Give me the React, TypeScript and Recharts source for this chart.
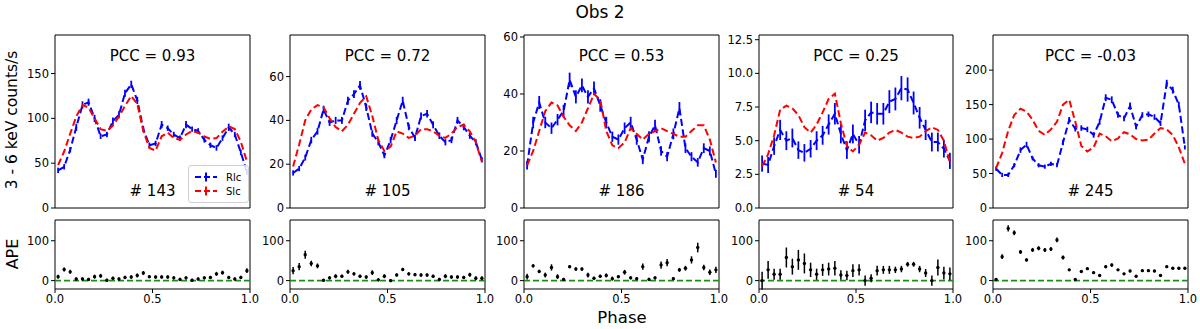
import React from 'react';
import {
  ComposedChart,
  Line,
  Scatter,
  XAxis,
  YAxis,
  ErrorBar,
  ReferenceLine,
  ReferenceArea,
  Legend,
} from 'recharts';

// ---------------- DATA ----------------
const phases = [
  0.016, 0.047, 0.078, 0.109, 0.141, 0.172, 0.203, 0.234, 0.266, 0.297, 0.328,
  0.359, 0.391, 0.422, 0.453, 0.484, 0.516, 0.547, 0.578, 0.609, 0.641, 0.672,
  0.703, 0.734, 0.766, 0.797, 0.828, 0.859, 0.891, 0.922, 0.953, 0.984,
];

const pccLabels = ['PCC = 0.93', 'PCC = 0.72', 'PCC = 0.53', 'PCC = 0.25', 'PCC = -0.03'];
const countLabels = ['# 143', '# 105', '# 186', '# 54', '# 245'];
const seriesNames = ['Rlc', 'Slc'];
const xTicks = [0, 0.5, 1];

// panel 1
const rlc1 = [42, 46, 65, 90, 115, 118, 100, 80, 82, 97, 104, 128, 138, 120, 88, 70, 72, 93, 89, 82, 78, 93, 88, 86, 76, 70, 67, 78, 90, 82, 62, 40];
const rlc1Err = [3, 3, 3, 4, 4, 4, 4, 3, 3, 4, 4, 4, 4, 4, 3, 3, 3, 4, 3, 3, 3, 4, 3, 3, 3, 3, 3, 3, 4, 3, 3, 3];
const slc1 = [48, 63, 83, 102, 115, 112, 100, 88, 86, 92, 102, 114, 125, 116, 86, 67, 64, 80, 84, 78, 76, 82, 86, 84, 80, 77, 78, 85, 91, 88, 74, 52];
const ape1 = [10, 28, 22, 4, 4, 3, 10, 12, 1, 6, 4, 8, 9, 13, 19, 10, 9, 9, 9, 7, 3, 7, 1, 4, 7, 8, 17, 20, 8, 4, 8, 25];
const ape1Err = [5, 5, 5, 4, 4, 4, 5, 5, 4, 4, 4, 4, 4, 5, 5, 4, 4, 4, 4, 4, 4, 4, 4, 4, 4, 4, 5, 5, 4, 4, 4, 6];
const yTicks1 = [0, 50, 100, 150];
const yMax1 = 193;

// panel 2
const rlc2 = [16, 18, 23, 31, 35, 45, 39, 40, 40, 49, 52, 56, 46, 34, 30, 24, 31, 40, 49, 37, 32, 42, 43, 38, 33, 30, 31, 40, 37, 33, 30, 22];
const rlc2Err = [1.2, 1.2, 1.3, 1.5, 1.5, 1.7, 1.5, 1.6, 1.6, 1.8, 1.8, 2, 1.7, 1.5, 1.4, 1.3, 1.4, 1.6, 1.8, 1.5, 1.4, 1.6, 1.7, 1.6, 1.5, 1.4, 1.4, 1.6, 1.5, 1.4, 1.4, 1.2];
const slc2 = [19, 29, 40, 45, 47, 46, 41, 37, 35, 38, 43, 48, 51, 42, 31, 26, 28, 35, 34, 32, 33, 36, 36, 35, 33, 32, 34, 37, 38, 35, 30, 21];
const ape2 = [25, 35, 65, 43, 37, 1, 7, 11, 11, 22, 17, 11, 9, 20, 2, 11, 0, 14, 28, 17, 15, 14, 14, 11, 3, 11, 9, 9, 8, 15, 6, 6];
const ape2Err = [9, 9, 10, 7, 6, 3, 4, 5, 4, 5, 4, 4, 4, 6, 4, 5, 4, 4, 4, 4, 4, 4, 4, 4, 4, 5, 4, 4, 4, 5, 5, 5];
const yTicks2 = [0, 20, 40, 60];
const yMax2 = 79;

// panel 3
const rlc3 = [15, 30, 37, 30, 28, 31, 34, 45, 39, 43, 39, 42, 36, 30, 25, 24, 28, 30, 24, 17, 25, 29, 20, 18, 26, 35, 21, 18, 16, 21, 20, 12];
const rlc3Err = [1.5, 2, 2.3, 2, 2, 2, 2.2, 2.5, 2.3, 2.4, 2.3, 2.4, 2.2, 2, 1.8, 1.8, 2, 2, 1.8, 1.6, 1.9, 2, 1.7, 1.6, 1.9, 2.2, 1.7, 1.6, 1.5, 1.7, 1.6, 1.4];
const slc3 = [15, 20, 27, 34, 37, 36, 32, 29, 27, 30, 35, 40, 38, 27, 22, 21, 23, 28, 26, 24, 26, 27, 28, 27, 26, 25, 25, 27, 29, 29, 24, 16];
const ape3 = [10, 37, 23, 14, 33, 10, 3, 35, 29, 29, 14, 6, 11, 13, 5, 10, 21, 7, 5, 35, 3, 7, 39, 45, 5, 27, 31, 52, 83, 33, 21, 27];
const ape3Err = [7, 4, 4, 6, 8, 6, 4, 4, 4, 4, 6, 4, 4, 5, 5, 4, 6, 4, 4, 8, 4, 4, 9, 9, 4, 5, 6, 9, 12, 7, 7, 8];
const yTicks3 = [0, 20, 40, 60];
const yMax3 = 60.7;

// panel 4
const rlc4 = [3.3, 3.2, 4.6, 5.8, 5.0, 5.2, 4.3, 4.1, 4.4, 5.0, 5.4, 6.2, 7.0, 5.5, 4.3, 5.5, 4.7, 6.5, 7.1, 7.0, 7.0, 7.9, 8.1, 8.9, 8.8, 7.8, 6.7, 5.8, 4.9, 4.9, 4.4, 3.5];
const rlc4Err = [0.6, 0.6, 0.65, 0.75, 0.7, 0.7, 0.65, 0.65, 0.65, 0.7, 0.7, 0.75, 0.8, 0.7, 0.65, 0.7, 0.65, 0.8, 0.8, 0.8, 0.8, 0.85, 0.85, 0.9, 0.9, 0.85, 0.8, 0.75, 0.7, 0.7, 0.65, 0.6];
const slc4 = [3.1, 4.0, 5.4, 7.3, 7.6, 7.4, 6.9, 6.0, 5.6, 6.2, 7.1, 8.1, 8.5, 6.3, 4.6, 4.2, 4.7, 5.6, 5.4, 5.0, 5.2, 5.6, 5.8, 5.6, 5.3, 5.2, 5.3, 5.7, 6.0, 5.8, 5.0, 3.4];
const ape4 = [0, 27, 16, 16, 58, 35, 52, 43, 27, 16, 27, 29, 31, 14, 13, 25, 27, 0, 6, 25, 27, 27, 27, 29, 41, 41, 29, 19, 0, 33, 19, 17];
const ape4Err = [22, 22, 14, 14, 25, 20, 25, 25, 18, 14, 15, 16, 18, 12, 12, 16, 14, 13, 10, 12, 10, 10, 8, 8, 6, 6, 8, 10, 13, 20, 16, 16];
const yTicks4 = [0, 2.5, 5, 7.5, 10, 12.5];
const yMax4 = 12.85;

// panel 5
const rlc5 = [57, 48, 48, 62, 84, 92, 72, 62, 60, 64, 62, 95, 128, 115, 116, 114, 106, 125, 160, 157, 135, 130, 148, 118, 135, 136, 132, 123, 181, 171, 150, 88];
const rlc5Err = [3, 3, 3, 3, 4, 4, 3, 3, 3, 3, 3, 4, 4, 4, 4, 4, 4, 4, 5, 5, 4, 4, 5, 4, 4, 4, 4, 4, 5, 5, 4, 3];
const slc5 = [58, 80, 112, 135, 144, 140, 128, 112, 106, 114, 125, 150, 157, 125, 90, 82, 88, 108, 104, 97, 101, 110, 107, 100, 98, 99, 108, 116, 114, 106, 88, 64];
const ape5 = [3, 60, 131, 120, 72, 52, 77, 81, 77, 79, 102, 58, 27, 3, 23, 30, 20, 13, 35, 39, 27, 17, 24, 11, 25, 25, 24, 13, 35, 31, 31, 31];
const ape5Err = [3, 6, 8, 6, 5, 4, 5, 5, 5, 5, 6, 5, 3, 3, 3, 3, 3, 3, 4, 4, 3, 3, 3, 3, 3, 3, 3, 3, 3, 3, 3, 3];
const yTicks5 = [0, 50, 100, 150, 200];
const yMax5 = 251;

const apeTicks = [0, 100];
const apeDomain = [-21, 152];

// ---------------- STYLE / LAYOUT ----------------
const FONT = 'DejaVu Sans, Verdana, sans-serif';
const BLUE = '#0000ff';
const RED = '#ff0000';
const GREEN = '#1a8f1a';
const TOP_Y = 35;
const TOP_H = 173;
const BOT_Y = 220;
const BOT_H = 69;
const AXW = 45;

const panels = [
  { left: 55, width: 195, rlc: rlc1, err: rlc1Err, slc: slc1, ape: ape1, apeErr: ape1Err, ticks: yTicks1, yMax: yMax1, fmt: (v: number) => String(v) },
  { left: 290, width: 195, rlc: rlc2, err: rlc2Err, slc: slc2, ape: ape2, apeErr: ape2Err, ticks: yTicks2, yMax: yMax2, fmt: (v: number) => String(v) },
  { left: 524, width: 195, rlc: rlc3, err: rlc3Err, slc: slc3, ape: ape3, apeErr: ape3Err, ticks: yTicks3, yMax: yMax3, fmt: (v: number) => String(v) },
  { left: 759, width: 194, rlc: rlc4, err: rlc4Err, slc: slc4, ape: ape4, apeErr: ape4Err, ticks: yTicks4, yMax: yMax4, fmt: (v: number) => v.toFixed(1) },
  { left: 993, width: 195, rlc: rlc5, err: rlc5Err, slc: slc5, ape: ape5, apeErr: ape5Err, ticks: yTicks5, yMax: yMax5, fmt: (v: number) => String(v) },
];

const tickStyle = { fontSize: 11.5, fill: '#000', fontFamily: FONT };

const LegendMarker = ({ color }: { color: string }) => (
  <svg width={24} height={10} style={{ display: 'block' }}>
    <line x1={1} y1={5} x2={23} y2={5} stroke={color} strokeWidth={2} strokeDasharray="6 3" />
    <line x1={12} y1={0.5} x2={12} y2={9.5} stroke={color} strokeWidth={2} />
  </svg>
);

const LegendBox = () => (
  <div
    style={{
      border: '1px solid #d0d0d0',
      borderRadius: 3,
      background: 'rgba(255,255,255,0.85)',
      padding: '4px 4px 4px 5px',
      fontFamily: FONT,
      fontSize: 10,
      lineHeight: '13px',
      width: 61,
      height: 38,
      boxSizing: 'border-box',
    }}
  >
    {[BLUE, RED].map((c, i) => (
      <div key={i} style={{ display: 'flex', alignItems: 'center', gap: 8, height: 14 }}>
        <LegendMarker color={c} />
        <span>{seriesNames[i]}</span>
      </div>
    ))}
  </div>
);

function TopPanel({ p, idx }: { p: any; idx: number }) {
  const rows = phases.map((ph, i) => ({ phase: ph, rlc: p.rlc[i], rlcErr: p.err[i], slc: p.slc[i] }));
  return (
    <div style={{ position: 'absolute', left: p.left - AXW, top: TOP_Y - 5 }}>
      <ComposedChart
        width={p.width + AXW + 5}
        height={TOP_H + 15}
        data={rows}
        margin={{ top: 5, right: 5, bottom: 10, left: 0 }}
      >
        <XAxis type="number" dataKey="phase" domain={[0, 1]} hide allowDataOverflow />
        <YAxis
          type="number"
          domain={[0, p.yMax]}
          ticks={p.ticks}
          tickFormatter={p.fmt}
          width={AXW}
          tick={tickStyle}
          tickSize={4}
          tickMargin={2}
          axisLine={false}
          tickLine={{ stroke: '#000' }}
          allowDataOverflow
          interval={0}
        />
        <Line
          type="linear"
          dataKey="rlc"
          name={seriesNames[0]}
          stroke={BLUE}
          strokeWidth={2}
          strokeDasharray="7 3.5"
          dot={false}
          isAnimationActive={false}
        >
          <ErrorBar dataKey="rlcErr" direction="y" width={0} stroke={BLUE} strokeWidth={1.8} isAnimationActive={false} />
        </Line>
        <Line
          type="linear"
          dataKey="slc"
          name={seriesNames[1]}
          stroke={RED}
          strokeWidth={2}
          strokeDasharray="7 3.5"
          dot={false}
          isAnimationActive={false}
        />
        <ReferenceArea x1={0} x2={1} y1={0} y2={p.yMax} fill="none" stroke="#000" strokeWidth={1} ifOverflow="visible" />
        {idx === 0 && (
          <Legend
            layout="horizontal"
            verticalAlign="middle"
            align="center"
            wrapperStyle={{ position: 'absolute', left: 178, top: 135, width: 61 }}
            content={() => <LegendBox />}
          />
        )}
      </ComposedChart>
    </div>
  );
}

function BottomPanel({ p }: { p: any }) {
  const rows = phases.map((ph, i) => ({ phase: ph, ape: p.ape[i], apeErr: p.apeErr[i] }));
  return (
    <div style={{ position: 'absolute', left: p.left - AXW, top: BOT_Y - 5 }}>
      <ComposedChart
        width={p.width + AXW + 12}
        height={BOT_H + 5 + 24}
        margin={{ top: 5, right: 12, bottom: 0, left: 0 }}
      >
        <XAxis
          type="number"
          dataKey="phase"
          domain={[0, 1]}
          ticks={xTicks}
          tickFormatter={(v: number) => v.toFixed(1)}
          height={24}
          tick={tickStyle}
          tickSize={4}
          tickMargin={2}
          axisLine={false}
          tickLine={{ stroke: '#000' }}
          allowDataOverflow
          interval={0}
        />
        <YAxis
          type="number"
          dataKey="ape"
          domain={apeDomain}
          ticks={apeTicks}
          width={AXW}
          tick={tickStyle}
          tickSize={4}
          tickMargin={2}
          axisLine={false}
          tickLine={{ stroke: '#000' }}
          allowDataOverflow
          interval={0}
        />
        <ReferenceLine y={0} stroke={GREEN} strokeWidth={1.8} strokeDasharray="6 3" />
        <Scatter
          data={rows}
          dataKey="ape"
          isAnimationActive={false}
          shape={(s: any) => <circle cx={s.cx} cy={s.cy} r={1.7} fill="#000" />}
        >
          <ErrorBar dataKey="apeErr" direction="y" width={0} stroke="#000" strokeWidth={1.5} isAnimationActive={false} />
        </Scatter>
        <ReferenceArea x1={0} x2={1} y1={apeDomain[0]} y2={apeDomain[1]} fill="none" stroke="#000" strokeWidth={1} ifOverflow="visible" />
      </ComposedChart>
    </div>
  );
}

const centered = (x: number, y: number, size: number, extra: any = {}) => ({
  position: 'absolute' as const,
  left: x,
  top: y,
  transform: 'translate(-50%, -50%)',
  fontFamily: FONT,
  fontSize: size,
  color: '#000',
  whiteSpace: 'nowrap' as const,
  lineHeight: 1,
  ...extra,
});

export default function App() {
  return (
    <div style={{ position: 'absolute', left: 0, top: 0, width: 1200, height: 329, background: '#fff', overflow: 'hidden' }}>
      <div style={centered(600, 12, 17)}>Obs 2</div>
      <div style={centered(13, 120, 15.5, { transform: 'translate(-50%, -50%) rotate(-90deg)' })}>3 - 6 keV counts/s</div>
      <div style={centered(13, 254, 16, { transform: 'translate(-50%, -50%) rotate(-90deg)' })}>APE</div>
      <div style={centered(622, 318, 16.5)}>Phase</div>
      {panels.map((p, i) => (
        <React.Fragment key={i}>
          <TopPanel p={p} idx={i} />
          <BottomPanel p={p} />
          <div style={centered(p.left + p.width / 2, 55.5, 15)}>{pccLabels[i]}</div>
          <div style={centered(p.left + p.width / 2, 191, 15)}>{countLabels[i]}</div>
        </React.Fragment>
      ))}
    </div>
  );
}
